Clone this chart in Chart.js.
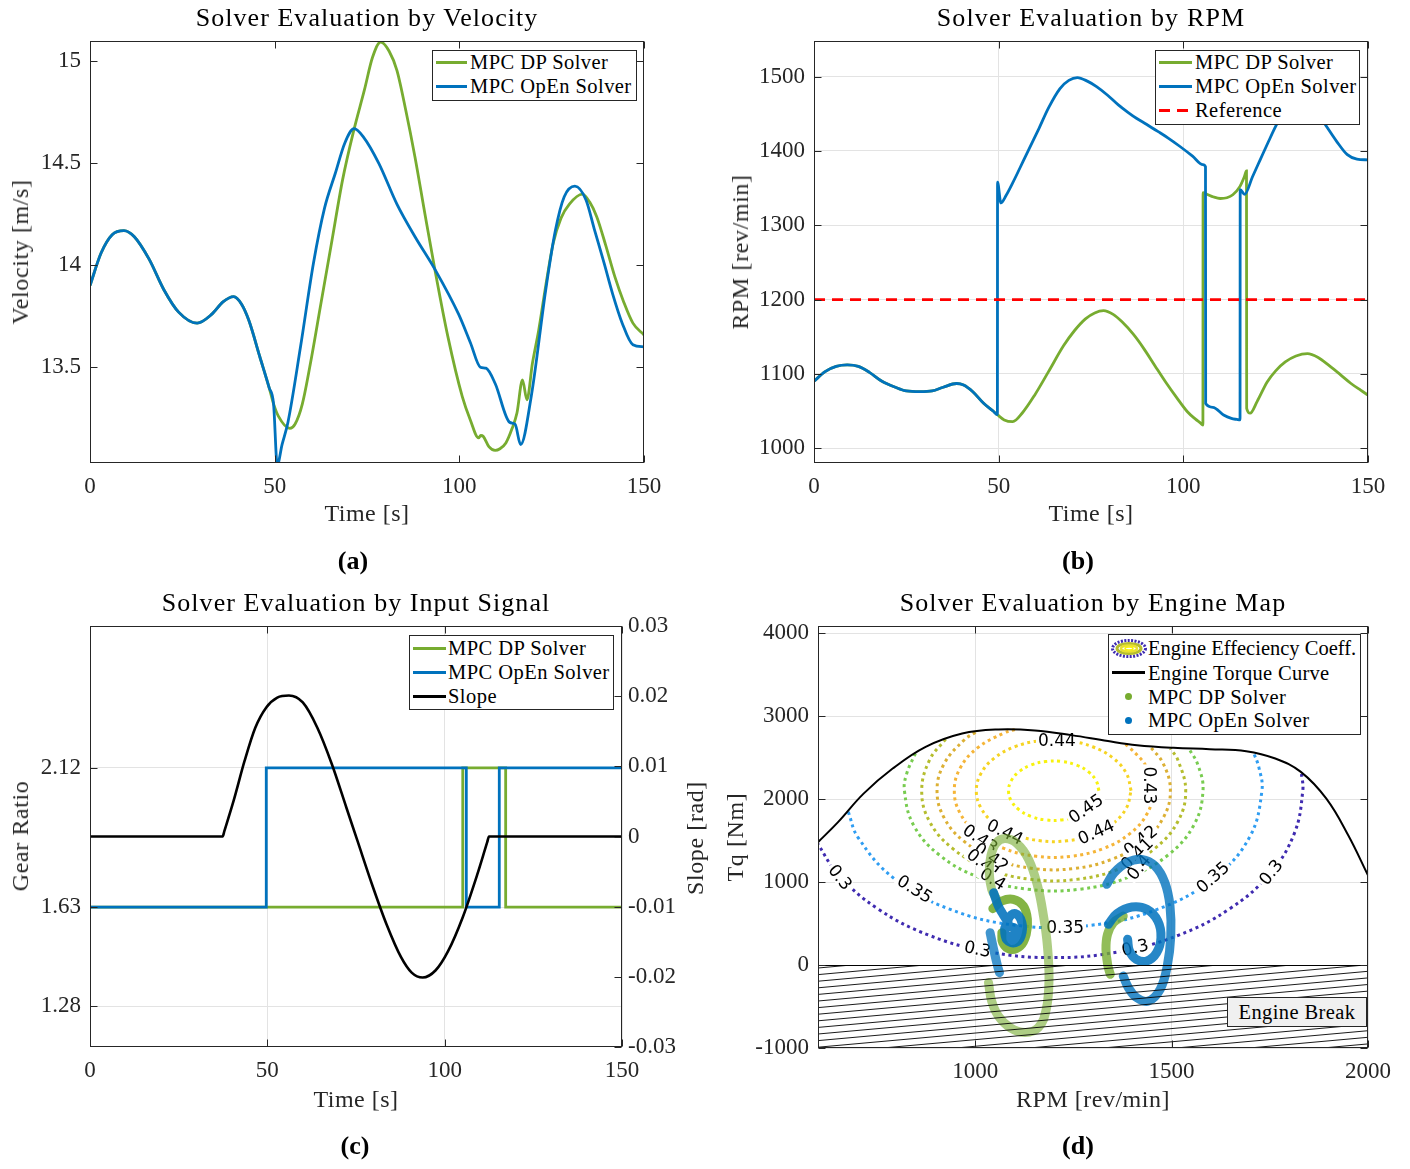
<!DOCTYPE html>
<html><head><meta charset="utf-8">
<script src="https://cdn.jsdelivr.net/npm/chart.js@4.4.1/dist/chart.umd.min.js"></script>
<style>
body{margin:0;background:#fff;width:1410px;height:1169px;position:relative;overflow:hidden;font-family:"Liberation Serif",serif;color:#000}
canvas{position:absolute}
.t{position:absolute;white-space:nowrap;line-height:1}
.leg{position:absolute;border:1px solid #262626;background:#fff;box-sizing:border-box;font-size:20.5px;letter-spacing:0.45px}
.row{position:absolute;left:0;height:24px;width:100%}
.sw{position:absolute;height:3px;top:10.5px}
.lt{position:absolute;line-height:24px;top:0;white-space:nowrap;color:#000}
.dot{position:absolute;width:7px;height:7px;border-radius:50%;top:8.5px}
.brk{position:absolute;left:1227px;top:997px;width:140px;height:30px;box-sizing:border-box;border:1px solid #262626;background:#f0f0f0;font-size:20.5px;letter-spacing:0.4px;line-height:28px;text-align:center}
</style></head>
<body>
<canvas id="cA" width="705" height="505" style="left:0;top:0"></canvas>
<canvas id="cB" width="705" height="505" style="left:705px;top:0"></canvas>
<canvas id="cC" width="705" height="505" style="left:0;top:585px"></canvas>
<canvas id="cD" width="705" height="505" style="left:705px;top:585px"></canvas>

<div class="leg" style="left:432px;top:50px;width:205px;height:51px">
  <div class="row" style="top:-1px"><span class="sw" style="left:3px;width:31px;background:#77AC30"></span><span class="lt" style="left:37px">MPC DP Solver</span></div>
  <div class="row" style="top:23px"><span class="sw" style="left:3px;width:31px;background:#0072BD"></span><span class="lt" style="left:37px">MPC OpEn Solver</span></div>
</div>
<div class="leg" style="left:1155px;top:50px;width:205px;height:75px">
  <div class="row" style="top:-1px"><span class="sw" style="left:3px;width:33px;background:#77AC30"></span><span class="lt" style="left:39px">MPC DP Solver</span></div>
  <div class="row" style="top:23px"><span class="sw" style="left:3px;width:33px;background:#0072BD"></span><span class="lt" style="left:39px">MPC OpEn Solver</span></div>
  <div class="row" style="top:47px"><span class="sw" style="left:3px;width:33px;background:repeating-linear-gradient(90deg,#ff0000 0 11px,transparent 11px 18px)"></span><span class="lt" style="left:39px">Reference</span></div>
</div>
<div class="leg" style="left:409px;top:635px;width:205px;height:75px">
  <div class="row" style="top:0px"><span class="sw" style="left:3px;width:33px;background:#77AC30"></span><span class="lt" style="left:38px">MPC DP Solver</span></div>
  <div class="row" style="top:24px"><span class="sw" style="left:3px;width:33px;background:#0072BD"></span><span class="lt" style="left:38px">MPC OpEn Solver</span></div>
  <div class="row" style="top:48px"><span class="sw" style="left:3px;width:33px;background:#000"></span><span class="lt" style="left:38px">Slope</span></div>
</div>
<div class="leg" style="left:1108px;top:634px;width:253px;height:101px;letter-spacing:0px">
  <div class="row" style="top:1px"><svg style="position:absolute;left:1px;top:3px" width="38" height="19" viewBox="0 0 38 19">
    <ellipse cx="19" cy="9.5" rx="16.5" ry="8" fill="none" stroke="#3f2bb0" stroke-width="3" stroke-dasharray="2 1.4"/>
    <ellipse cx="19" cy="9.5" rx="12" ry="5" fill="none" stroke="#b5bd2e" stroke-width="3"/>
    <ellipse cx="19" cy="9.5" rx="8" ry="3" fill="none" stroke="#e8e030" stroke-width="2.5"/>
    <ellipse cx="19" cy="9.5" rx="4" ry="1.5" fill="#fff" stroke="#f7f20f" stroke-width="1.5"/>
  </svg><span class="lt" style="left:39px">Engine Effeciency Coeff.</span></div>
  <div class="row" style="top:25.7px"><span class="sw" style="left:3px;width:33px;background:#000"></span><span class="lt" style="left:39px;letter-spacing:0.3px">Engine Torque Curve</span></div>
  <div class="row" style="top:49.7px"><span class="dot" style="left:16px;background:#77AC30"></span><span class="lt" style="left:39px;letter-spacing:0.45px">MPC DP Solver</span></div>
  <div class="row" style="top:73px"><span class="dot" style="left:16px;background:#0072BD"></span><span class="lt" style="left:39px;letter-spacing:0.45px">MPC OpEn Solver</span></div>
</div>
<div class="brk">Engine Break</div>

<script>
// ---------------- DATA ----------------
// (a) velocity
const tVelOpEn = [0,3,6,9.2,12,16,20,24,29,33,36,38.9,41,43,46,48.5,49.7,50.7,52,53.6,57,60.5,63.5,66.4,69,71.5,74,78.2,83.1,88,93.4,99.8,103,105.7,107.2,109.7,113.6,115.1,116.6,119.5,123.4,126,128.4,131.3,134.3,136.5,139.2,141.5,144.1,147,150];
const velOpEn  = [13.90,14.06,14.15,14.17,14.14,14.03,13.88,13.77,13.716,13.76,13.82,13.846,13.81,13.73,13.55,13.40,13.32,13.02,13.12,13.23,13.60,14.01,14.28,14.45,14.60,14.67,14.63,14.50,14.30,14.14,13.98,13.76,13.62,13.50,13.495,13.42,13.23,13.22,13.12,13.36,13.88,14.17,14.336,14.388,14.32,14.18,14.01,13.86,13.716,13.61,13.60];
const tVelDP = [0,3,6,9.2,12,16,20,24,29,33,36,38.9,41,43,46,48.5,49.7,51,54.1,55.5,57.5,60,62.5,65.5,68.4,71.4,74.3,76.5,78.7,81,83.1,85.5,88,90.7,93.4,96.9,100.8,103,105.2,105.8,106.5,108,109.7,111,112.6,114.3,115.6,117.1,118.3,119.8,121.5,123.4,125.4,127.5,129.8,133.3,135.3,137.2,139.6,142.1,144.5,147,150];
const velDP  = [13.90,14.06,14.15,14.17,14.14,14.03,13.88,13.77,13.716,13.76,13.82,13.846,13.81,13.73,13.55,13.40,13.32,13.26,13.20,13.22,13.32,13.55,13.81,14.12,14.42,14.66,14.86,15.02,15.095,15.05,14.956,14.76,14.53,14.25,13.977,13.65,13.356,13.24,13.153,13.165,13.16,13.11,13.092,13.10,13.128,13.20,13.275,13.438,13.34,13.52,13.683,13.90,14.107,14.23,14.30,14.349,14.31,14.238,14.10,13.944,13.82,13.716,13.658];
const timeTicks = [0,50,100,150];
const velTicks = [13.5,14,14.5,15];

// (b) RPM
const tRpmOpEn = [0,3,6,9,12,15,18.4,22,25,28.7,32,35,38.6,40.5,43,46,48.5,49.65,49.7,50.6,52,53.8,57,60.7,63.5,66.6,69,71.3,74,76.5,79.5,82.4,85,87.3,90,93.2,96,99.1,102.5,105.3,106.0,106.05,108,110.9,113,114.5,115.35,115.4,116.6,118.7,120.8,123,125.2,127.5,130,132.5,135,138.5,141.5,144.4,147,150];
const rpmOpEn  = [1090,1103,1110,1112,1110,1102,1090,1082,1077,1076,1077,1082,1087,1085,1076,1060,1050,1045,1358,1330,1340,1357,1390,1428,1458,1484,1495,1498.7,1494,1486.6,1475,1462,1452,1444,1436,1426,1417,1406,1393,1381.5,1378.6,1060,1055,1044.6,1040,1038.6,1038,1348,1341.5,1365,1388,1412,1435,1455,1468,1470,1460,1435,1413,1395,1389,1388];
const tRpmDP = [0,3,6,9,12,15,18.4,22,25,28.7,32,35,38.6,40.5,43,46,48.5,49.65,51.5,53.8,56.5,59.7,63.5,67.6,70.5,73.5,76,78.4,81,83.4,86.5,89.3,92.3,95.2,98.2,101.1,103.3,104.6,105.3,105.35,106.5,108.2,110,111.8,113.4,115.3,116.5,117.1,117.15,118.1,120,122.7,125,127.6,130.5,133.6,136.5,139.5,142.5,145.4,148,150];
const rpmDP  = [1090,1103,1110,1112,1110,1102,1090,1082,1077,1076,1077,1082,1087,1085,1076,1060,1050,1045,1038,1035.7,1048,1071,1103,1138,1158,1174,1182,1185,1180,1170,1153,1134,1111,1089,1068,1049,1039,1034,1031,1344,1341.5,1338,1336,1337,1341,1352,1365,1373,1053.6,1047,1063,1089,1104,1116,1124,1127.2,1122,1111,1099,1087,1078,1071.4];
const tRef = [0,150];
const rpmRef = [1200,1200];
const rpmTicks = [1000,1100,1200,1300,1400,1500];

// (c) gear ratio and slope
const tGearOpEn = [0,49.7,49.7,106.1,106.1,115.4,115.4,150];
const gearOpEn  = [1.63,1.63,2.12,2.12,1.63,1.63,2.12,2.12];
const tGearDP = [0,105.1,105.1,117.2,117.2,150];
const gearDP  = [1.63,1.63,2.12,2.12,1.63,1.63];
const tSlope = [0,37.4,37.9,40.5,43.6,46.6,49.7,52.8,56.1,60.0,64.1,68.2,72.3,75.4,79.5,83.6,87.7,90.7,93.8,97.4,101,105.1,109.2,112.0,112.5,150];
const slope  = [0,0,0.0008,0.0051,0.0108,0.0155,0.0184,0.0198,0.0201,0.0191,0.0155,0.0103,0.0041,-0.0006,-0.0068,-0.0125,-0.0172,-0.0194,-0.0201,-0.0191,-0.0163,-0.0115,-0.0054,-0.0008,0,0];
const gearTicks = [1.28,1.63,2.12];
const slopeTicks = [-0.03,-0.02,-0.01,0,0.01,0.02,0.03];

// (d) engine map [rpm, torque]
const torqueCurve = [[600,1480],[651,1722],[716,2065],[790,2367],[874,2629],[967,2790],[1059,2839],[1152,2827],[1245,2770],[1338,2698],[1412,2649],[1505,2617],[1597,2601],[1690,2577],[1764,2488],[1829,2327],[1894,2004],[1950,1560],[2000,1080]];
const eff030 = [[597,1479],[651,1094],[752,678],[883,358],[1036,158],[1200,89],[1364,158],[1517,358],[1648,678],[1749,1094],[1812,1580],[1834,2100],[1830,2328]];
const eff035 = [[677,1845],[702,1536],[794,1041],[935,673],[1108,477],[1292,477],[1465,673],[1606,1041],[1698,1536],[1730,2100],[1722,2386],[1709,2554]];
const eff040 = [[848,2551],[826,2309],[820,2100],[843,1688],[909,1325],[1010,1057],[1134,913],[1266,913],[1390,1057],[1491,1325],[1557,1688],[1580,2100],[1567,2412],[1544,2609]];
const eff041 = [[925,2722],[884,2471],[864,2100],[884,1729],[943,1403],[1032,1161],[1142,1032],[1258,1032],[1368,1161],[1457,1403],[1516,1729],[1536,2100],[1516,2471],[1497,2609]];
const eff042 = [[1001,2806],[972,2711],[921,2425],[903,2100],[921,1775],[972,1489],[1052,1276],[1148,1163],[1252,1163],[1349,1276],[1428,1489],[1479,1775],[1497,2100],[1479,2425],[1443,2645]];
const eff043 = [[1101,2838],[1073,2795],[1006,2616],[962,2374],[947,2100],[962,1826],[1006,1584],[1073,1405],[1156,1310],[1244,1310],[1327,1405],[1394,1584],[1438,1826],[1453,2100],[1438,2374],[1394,2616],[1375,2680]];
const eff044 = [[1397,2100],[1385,2309],[1351,2494],[1299,2630],[1234,2703],[1166,2703],[1101,2630],[1049,2494],[1015,2309],[1003,2100],[1015,1891],[1049,1706],[1101,1570],[1166,1497],[1234,1497],[1299,1570],[1351,1706],[1385,1891],[1397,2100]];
const eff045 = [[1315,2100],[1308,2222],[1288,2330],[1258,2409],[1220,2452],[1180,2452],[1142,2409],[1112,2330],[1092,2222],[1085,2100],[1092,1978],[1112,1870],[1142,1791],[1180,1748],[1220,1748],[1258,1791],[1288,1870],[1308,1978],[1315,2100]];
const effLevels = ['0.3','0.35','0.4','0.41','0.42','0.43','0.44','0.45'];
const effLabelText = ['0.3','0.35','0.3','0.35','0.3','0.35','0.3','0.45','0.44','0.44','0.43','0.44','0.43','0.42','0.41','0.4','0.42','0.41','0.4'];
const effLabelAt = [[656,1056],[846,915],[1006,190],[1229,452],[1407,210],[1605,1056],[1753,1117],[1282,1883],[1308,1601],[1076,1601],[1444,2165],[1208,2710],[1013,1520],[1041,1298],[1022,1218],[1045,1036],[1421,1500],[1412,1339],[1417,1177]];
const effLabelAngle = [52,32,12,0,-13,-42,-52,-35,-24,26,90,0,34,35,38,32,-39,-45,-50];
const dpLeftOuter = [[1034,-212],[1042,-434],[1059,-614],[1089,-754],[1127,-814],[1161,-754],[1181,-534],[1188,-172],[1184,229],[1174,590],[1159,952],[1136,1273],[1106,1466],[1076,1523],[1053,1466],[1040,1313],[1036,1113],[1042,912],[1055,792]];
const dpLeftInner = [[1045,679],[1068,771],[1097,792],[1123,711],[1133,551],[1130,370],[1115,229],[1089,189],[1070,270],[1068,390]];
const dpRight = [[1377,590],[1352,511],[1337,370],[1333,189],[1338,-12],[1344,-112]];
const openLeft = [[1047,872],[1059,711],[1072,600],[1081,520],[1075,430],[1081,301],[1102,270],[1117,349],[1119,511],[1102,619],[1085,560],[1087,470],[1102,440],[1104,370],[1091,349]];
const openLeftStub = [[1038,390],[1047,189],[1057,-12],[1062,-92]];
const openRightOuter = [[1335,972],[1354,1113],[1386,1234],[1424,1273],[1458,1193],[1483,993],[1496,711],[1498,349],[1489,-12],[1471,-293],[1441,-434],[1411,-393],[1390,-272],[1377,-133]];
const openRightInner = [[1339,490],[1361,619],[1399,699],[1437,671],[1465,530],[1473,330],[1462,149],[1437,48],[1410,69],[1393,169],[1388,310]];
const rpmMapTicks = [1000,1500,2000];
const tqTicks = [-1000,0,1000,2000,3000,4000];

// ---------------- HELPERS ----------------
const GREEN = '#77AC30', BLUE = '#0072BD', AX = '#262626', GRID = '#e3e3e3';
const zip = (xs, ys) => xs.map((x, i) => ({x, y: ys[i]}));
const pairs = arr => arr.map(p => ({x: p[0], y: p[1]}));
Chart.defaults.font.family = '"Liberation Serif", serif';
Chart.defaults.font.size = 23;
Chart.defaults.color = AX;
Chart.defaults.animation = false;

function scale(min, max, vals, o) {
  o = o || {};
  return {
    type: 'linear', position: o.position || undefined, min, max,
    afterBuildTicks: s => { s.ticks = vals.map(v => ({value: v})); },
    afterFit: s => { if (o.w !== undefined) s.width = o.w; if (o.h !== undefined) s.height = o.h; },
    grid: {display: !!o.grid, color: GRID, lineWidth: 1, drawTicks: false},
    border: {display: false},
    ticks: {padding: o.pad || 9, color: AX, autoSkip: false, maxRotation: 0, callback: v => String(v), font: {size: 23}}
  };
}
const boxPlugin = {
  id: 'mbox',
  afterDraw(chart, _a, o) {
    const {ctx, chartArea: a, scales} = chart;
    const L = Math.round(a.left) + 0.5, R = Math.round(a.right) - 0.5, T = Math.round(a.top) + 0.5, B = Math.round(a.bottom) - 0.5;
    ctx.save();
    ctx.strokeStyle = AX; ctx.lineWidth = 1;
    ctx.strokeRect(L, T, R - L, B - T);
    const tl = 7;
    (o.marks || []).forEach(m => {
      const s = scales[m.scale];
      s.ticks.forEach(t => {
        const p = Math.round(s.getPixelForValue(t.value)) + 0.5;
        ctx.beginPath();
        m.sides.forEach(side => {
          if (side === 'bottom') { ctx.moveTo(p, B); ctx.lineTo(p, B - tl); }
          if (side === 'top') { ctx.moveTo(p, T); ctx.lineTo(p, T + tl); }
          if (side === 'left') { ctx.moveTo(L, p); ctx.lineTo(L + tl, p); }
          if (side === 'right') { ctx.moveTo(R, p); ctx.lineTo(R - tl, p); }
        });
        ctx.stroke();
      });
    });
    ctx.restore();
  }
};
const hatchPlugin = {
  id: 'hatch',
  afterDatasetsDraw(chart) {
    const {ctx, chartArea: a, scales: {x, y}} = chart;
    const y0 = y.getPixelForValue(0), y1 = a.bottom;
    ctx.save();
    ctx.beginPath(); ctx.rect(a.left, y0, a.right - a.left, y1 - y0); ctx.clip();
    ctx.strokeStyle = '#000'; ctx.lineWidth = 0.9;
    const w = a.right - a.left, rise = w * 0.09;
    for (let yy = y0 + 3; yy < y1 + rise + 8; yy += 6.6) {
      ctx.beginPath(); ctx.moveTo(a.left, yy); ctx.lineTo(a.right, yy - rise); ctx.stroke();
    }
    ctx.restore();
    ctx.save(); ctx.strokeStyle = '#000'; ctx.lineWidth = 1.2;
    ctx.beginPath(); ctx.moveTo(a.left, Math.round(y0) + 0.5); ctx.lineTo(a.right, Math.round(y0) + 0.5); ctx.stroke();
    ctx.restore();
  }
};
const labelPlugin = {
  id: 'clabels',
  afterDatasetDraw(chart, args) {
    const ds = chart.data.datasets[args.index];
    if (!ds.labelsAfter) return;
    const {ctx, chartArea: a, scales: {x, y}} = chart;
    ctx.save();
    ctx.beginPath(); ctx.rect(a.left, a.top, a.right - a.left, a.bottom - a.top); ctx.clip();
    ctx.font = '17px "DejaVu Sans", sans-serif';
    ctx.textAlign = 'center'; ctx.textBaseline = 'middle';
    effLabelText.forEach((t, i) => {
      const px = x.getPixelForValue(effLabelAt[i][0]), py = y.getPixelForValue(effLabelAt[i][1]);
      ctx.save(); ctx.translate(px, py); ctx.rotate(effLabelAngle[i] * Math.PI / 180);
      const w = ctx.measureText(t).width;
      ctx.fillStyle = '#fff'; ctx.fillRect(-w / 2 - 2, -7, w + 4, 14);
      ctx.fillStyle = '#000'; ctx.fillText(t, 0, 1);
      ctx.restore();
    });
    ctx.restore();
  }
};
const lineDs = (label, data, color, extra) => Object.assign({label, data, borderColor: color, backgroundColor: color, borderWidth: 2.8, pointRadius: 0, fill: false, cubicInterpolationMode: 'monotone'}, extra || {});
const baseOpts = (padRight, marks, scales) => ({
  responsive: false, animation: false,
  layout: {padding: {top: 41, right: padRight, left: 0, bottom: 0}, autoPadding: false},
  plugins: {legend: {display: false}, tooltip: {enabled: false}, mbox: {marks}},
  scales
});

// (a)
new Chart(document.getElementById('cA'), {
  type: 'line',
  data: {datasets: [
    lineDs('MPC OpEn Solver', zip(tVelOpEn, velOpEn), BLUE),
    lineDs('MPC DP Solver', zip(tVelDP, velDP), GREEN)
  ]},
  options: baseOpts(61, [{scale: 'x', sides: ['bottom', 'top']}, {scale: 'y', sides: ['left', 'right']}], {
    x: scale(0, 150, timeTicks, {h: 42, pad: 10}),
    y: scale(13.03, 15.1, velTicks, {w: 90})
  }),
  plugins: [boxPlugin]
});

// (b)
new Chart(document.getElementById('cB'), {
  type: 'line',
  data: {datasets: [
    lineDs('Reference', zip(tRef, rpmRef), '#ff0000', {borderDash: [11, 7], cubicInterpolationMode: 'default', tension: 0}),
    lineDs('MPC OpEn Solver', zip(tRpmOpEn, rpmOpEn), BLUE),
    lineDs('MPC DP Solver', zip(tRpmDP, rpmDP), GREEN)
  ]},
  options: baseOpts(42, [{scale: 'x', sides: ['bottom', 'top']}, {scale: 'y', sides: ['left', 'right']}], {
    x: scale(0, 150, timeTicks, {h: 42, pad: 10, grid: true}),
    y: scale(980, 1548, rpmTicks, {w: 109, grid: true})
  }),
  plugins: [boxPlugin]
});

// (c)
new Chart(document.getElementById('cC'), {
  type: 'line',
  data: {datasets: [
    lineDs('Slope', zip(tSlope, slope), '#000', {yAxisID: 'y2', borderWidth: 2.6}),
    lineDs('MPC OpEn Solver', zip(tGearOpEn, gearOpEn), BLUE, {cubicInterpolationMode: 'default', tension: 0}),
    lineDs('MPC DP Solver', zip(tGearDP, gearDP), GREEN, {cubicInterpolationMode: 'default', tension: 0})
  ]},
  options: baseOpts(0, [{scale: 'x', sides: ['bottom', 'top']}, {scale: 'y', sides: ['left']}, {scale: 'y2', sides: ['right']}], {
    x: scale(0, 150, timeTicks, {h: 43, pad: 10, grid: true}),
    y: scale(1.137, 2.62, gearTicks, {w: 90, grid: true}),
    y2: scale(-0.03, 0.03, slopeTicks, {w: 83, pad: 6, position: 'right'})
  }),
  plugins: [boxPlugin]
});

// (d)
const contourColors = ['#3f2bb0', '#2f9df2', '#78cc50', '#b5bd2e', '#dcb034', '#f5b538', '#f6d423', '#f7f20f'];
const contourData = [eff030, eff035, eff040, eff041, eff042, eff043, eff044, eff045];
const spiral = (label, data, color) => ({label, data: pairs(data), showLine: true, borderColor: color, borderWidth: 9, pointRadius: 0, tension: 0.4, borderCapStyle: 'round', borderJoinStyle: 'round', order: 1, fill: false});
const dsD = [
  spiral('MPC OpEn Solver', openLeft, 'rgba(0,114,189,0.88)'),
  spiral('MPC OpEn Solver', openLeftStub, 'rgba(0,114,189,0.75)'),
  spiral('MPC OpEn Solver', openRightOuter, 'rgba(0,114,189,0.8)'),
  spiral('MPC OpEn Solver', openRightInner, 'rgba(0,114,189,0.85)'),
  spiral('MPC DP Solver', dpLeftInner, 'rgba(119,172,48,0.9)'),
  spiral('MPC DP Solver', dpRight, 'rgba(119,172,48,0.8)'),
  spiral('MPC DP Solver', dpLeftOuter, 'rgba(119,172,48,0.6)'),
  {label: 'Engine Torque Curve', data: pairs(torqueCurve), showLine: true, borderColor: '#000', borderWidth: 2, pointRadius: 0, tension: 0.4, order: 2, fill: false}
];
contourData.forEach((c, i) => dsD.push({
  label: 'Engine Effeciency Coeff. ' + effLevels[i], data: pairs(c), showLine: true, borderColor: contourColors[i], borderWidth: 3,
  borderDash: [3, 3.6], pointRadius: 0, tension: 0.4, order: 3, fill: false, labelsAfter: i === 0
}));
new Chart(document.getElementById('cD'), {
  type: 'scatter',
  data: {datasets: dsD},
  options: baseOpts(42, [{scale: 'x', sides: ['bottom', 'top']}, {scale: 'y', sides: ['left', 'right']}], {
    x: scale(600, 2000, rpmMapTicks, {h: 42, pad: 10, grid: true}),
    y: scale(-1000, 4085, tqTicks, {w: 113, grid: true})
  }),
  plugins: [hatchPlugin, labelPlugin, boxPlugin]
});

// ---------------- TEXT ----------------
function addText(txt, x, y, fs, o) {
  o = o || {};
  const d = document.createElement('div');
  d.className = 't'; d.textContent = txt;
  d.style.fontSize = fs + 'px';
  d.style.color = o.color || '#000';
  if (o.ls) d.style.letterSpacing = o.ls + 'px';
  if (o.bold) d.style.fontWeight = 'bold';
  if (o.rot) {
    d.style.left = (x - 0.3375 * fs) + 'px'; d.style.top = y + 'px';
    d.style.transform = 'translate(-50%,-50%) rotate(-90deg)';
  } else {
    d.style.left = x + 'px'; d.style.top = (y - 0.8375 * fs) + 'px';
    d.style.transform = 'translateX(-50%)';
  }
  document.body.appendChild(d);
}
addText('Solver Evaluation by Velocity', 367, 27, 26, {ls: 1.05});
addText('Solver Evaluation by RPM', 1091, 27, 26, {ls: 1.15});
addText('Solver Evaluation by Input Signal', 356, 612, 26, {ls: 1.05});
addText('Solver Evaluation by Engine Map', 1093, 612, 26, {ls: 1.05});
addText('Time [s]', 367, 521, 24, {color: AX, ls: 0.5});
addText('Time [s]', 1091, 521, 24, {color: AX, ls: 0.5});
addText('Time [s]', 356, 1107, 24, {color: AX, ls: 0.5});
addText('RPM [rev/min]', 1093, 1107, 24, {color: AX, ls: 0.5});
addText('Velocity [m/s]', 28, 252, 24, {rot: true, color: AX, ls: 0.6});
addText('RPM [rev/min]', 748, 252, 24, {rot: true, color: AX, ls: 0.6});
addText('Gear Ratio', 28, 836, 24, {rot: true, color: AX, ls: 0.6});
addText('Slope [rad]', 703, 838, 24, {rot: true, color: AX, ls: 0.6});
addText('Tq [Nm]', 743, 837, 24, {rot: true, color: AX, ls: 0.6});
addText('(a)', 353, 570, 26, {bold: true});
addText('(b)', 1078, 570, 26, {bold: true});
addText('(c)', 355, 1155, 26, {bold: true});
addText('(d)', 1078, 1155, 26, {bold: true});
</script>
</body></html>
